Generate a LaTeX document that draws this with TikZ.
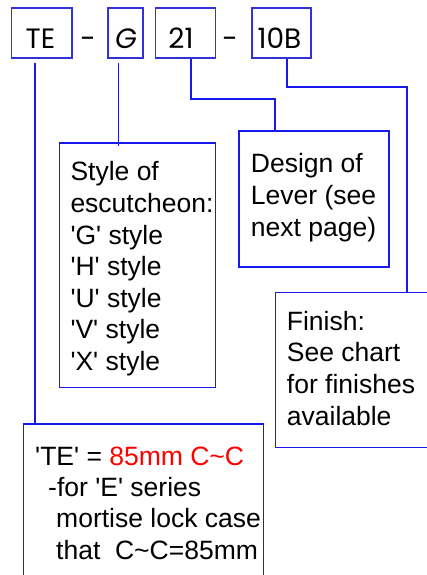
\documentclass[tikz,border=0pt]{standalone}
\usepackage{fontspec}
\setmainfont{Liberation Sans}
\newfontfamily\codefont{Poppins}
\definecolor{lineblue}{RGB}{25,25,235}
\definecolor{codeblue}{RGB}{50,50,220}
\definecolor{redtext}{RGB}{255,0,0}
\newcommand{\q}{\textquotesingle}
\begin{document}
\begin{tikzpicture}[x=1pt,y=-1pt,
  box/.style={draw=lineblue, line width=1.6pt, anchor=north west, inner sep=0pt},
  codebox/.style={box, draw=codeblue, minimum height=49.5pt},
  conn/.style={draw=lineblue, line width=1.8pt},
  code/.style={font=\codefont\fontsize{28}{28}\selectfont, anchor=base, inner sep=0pt},
  body/.style={font=\fontsize{26.5}{31.6}\selectfont, anchor=base west, align=left, inner sep=0pt}]
\useasboundingbox (0,0) rectangle (427,575);
% top code boxes
\node[codebox, minimum width=60.5pt] (te) at (10.5,7.5) {};
\node[codebox, minimum width=35pt] (g) at (107,7.5) {};
\node[codebox, minimum width=60pt] (n21) at (154.5,7.5) {};
\node[codebox, minimum width=59pt] (b10) at (251,7.5) {};
\node[code] (tet) at (40.5,49) {TE};
\node[code] (gt) at (126,49) {\itshape G};
\node[code] (n21t) at (181,49) {21};
\node[code] (b10t) at (279.5,49) {10B};
\node[code] (d1) at (88,49) {-};
\node[code] (d2) at (230,49) {-};
% description boxes
\node[box, minimum width=156pt, minimum height=244.4pt] (style) at (58.7,142.3) {};
\node[box, minimum width=150pt, minimum height=136pt] (design) at (238.3,130) {};
\node[box, minimum width=160pt, minimum height=155pt] (finish) at (274.7,291.7) {};
\node[box, minimum width=240pt, minimum height=170pt] (tebox) at (22.7,423) {};
% texts (anchored at the baseline of the last line)
\node[body] (stylet) at (70.3,370.5) {Style of\\escutcheon:\\\q G\q{} style\\\q H\q{} style\\\q U\q{} style\\\q V\q{} style\\\q X\q{} style};
\node[body] (designt) at (250.7,236) {Design of\\Lever (see\\next page)};
\node[body] (finisht) at (286.7,425) {Finish:\\See chart\\for finishes\\available};
\node[body, font=\fontsize{26.5}{31.3}\selectfont] (tet2) at (35,559) {\q TE\q{} = \textcolor{redtext}{85mm C\textasciitilde C}\\\hspace*{13pt}-for \q E\q{} series\\\hspace*{21pt}mortise lock case\\\hspace*{21pt}that\ \ C\textasciitilde C=85mm};
% connectors
\coordinate (teTop) at (35,63);
\coordinate (gTop) at (118.5,63);
\draw[conn] (teTop) -- (teTop |- tebox.north);
\draw[conn] (gTop) -- ([yshift=-4pt]gTop |- style.north);
\draw[conn] (191,0 |- n21.south) -- (191,98.7) -| (design.north -| 275,0);
\draw[conn] (286.7,0 |- b10.south) -- (286.7,87) -| (406.7,0 |- finish.north);
\end{tikzpicture}
\end{document}
